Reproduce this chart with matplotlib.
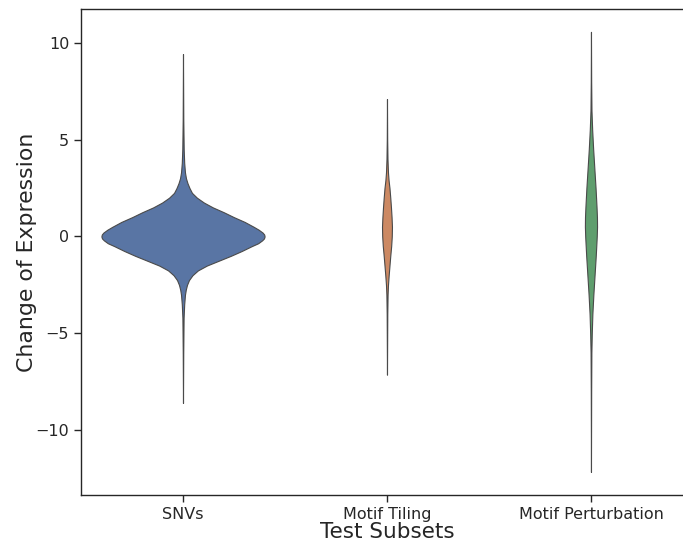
import matplotlib
matplotlib.use("Agg")
import matplotlib.pyplot as plt
import numpy as np

categories = ["SNVs", "Motif Tiling", "Motif Perturbation"]
colors = ["#5975A4", "#CC8963", "#5F9E6E"]

# violin outlines: value, relative half-width
snv_y = [9.41, 6.0, 4.5, 3.8, 3.3, 3.0, 2.75, 2.5, 2.25, 2.0, 1.75, 1.5, 1.25, 1.0,
         0.75, 0.5, 0.35, 0.2, 0.1, 0.0, -0.1, -0.2, -0.35, -0.5, -0.75, -1.0,
         -1.25, -1.5, -1.75, -2.0, -2.25, -2.5, -2.75, -3.0, -3.5, -4.2, -6.0, -8.59]
snv_w = [0, 0.3, 0.7, 1.2, 2.0, 3.0, 4.5, 6.5, 9, 14, 21, 30, 41, 51,
         62, 71, 76, 80, 81.6, 82, 81.4, 79.5, 75.5, 69, 59, 48,
         36, 24, 15, 9.5, 6, 4, 2.8, 2.0, 1.2, 0.6, 0.25, 0]

tiling_y = [7.09, 5.0, 4.0, 3.3, 2.9, 2.5, 2.0, 1.5, 1.0, 0.5, 0.0, -0.5, -1.0,
            -1.5, -2.0, -2.5, -3.0, -4.0, -7.13]
tiling_w = [0, 0.2, 0.5, 1.0, 1.6, 2.5, 3.3, 4.0, 4.6, 5.0, 4.8, 4.2, 3.3,
            2.5, 1.7, 1.0, 0.6, 0.3, 0]

pert_y = [10.56, 8.0, 6.5, 5.5, 4.5, 3.5, 2.5, 1.5, 1.0, 0.5, 0.0, -1.0, -2.0,
          -3.0, -4.0, -5.0, -6.0, -8.0, -12.15]
pert_w = [0, 0.2, 0.5, 1.2, 2.2, 3.4, 4.6, 5.6, 6.0, 6.1, 5.8, 4.8, 3.6,
          2.4, 1.4, 0.8, 0.4, 0.2, 0]

outlines = [(snv_y, snv_w), (tiling_y, tiling_w), (pert_y, pert_w)]

fig = plt.figure(figsize=(6.83, 5.47), dpi=100)
ax = fig.add_axes([0.1186, 0.0951, 0.8960, 0.8885])

for i, (ys, ws) in enumerate(outlines):
    ys = np.array(ys)
    ws = np.array(ws) / 82 * 0.4
    ax.fill_betweenx(ys, i - ws, i + ws, facecolor=colors[i],
                     edgecolor="#4a4a4a", linewidth=0.8, zorder=2)

ax.set_xlim(-0.5, 2.5)
ax.set_ylim(-13.34, 11.74)
ax.set_xticks(range(len(categories)))
ax.set_xticklabels(categories)
ax.set_yticks([-10, -5, 0, 5, 10])

ax.tick_params(labelsize=11.5, colors="#262626", length=5, width=1)
for s in ax.spines.values():
    s.set_color("#262626")
    s.set_linewidth(1.0)

ax.set_xlabel("Test Subsets", fontsize=15.5, color="#262626", labelpad=0)
ax.set_ylabel("Change of Expression", fontsize=15.8, color="#262626", labelpad=-1)

fig.savefig("out.png", dpi=100)
